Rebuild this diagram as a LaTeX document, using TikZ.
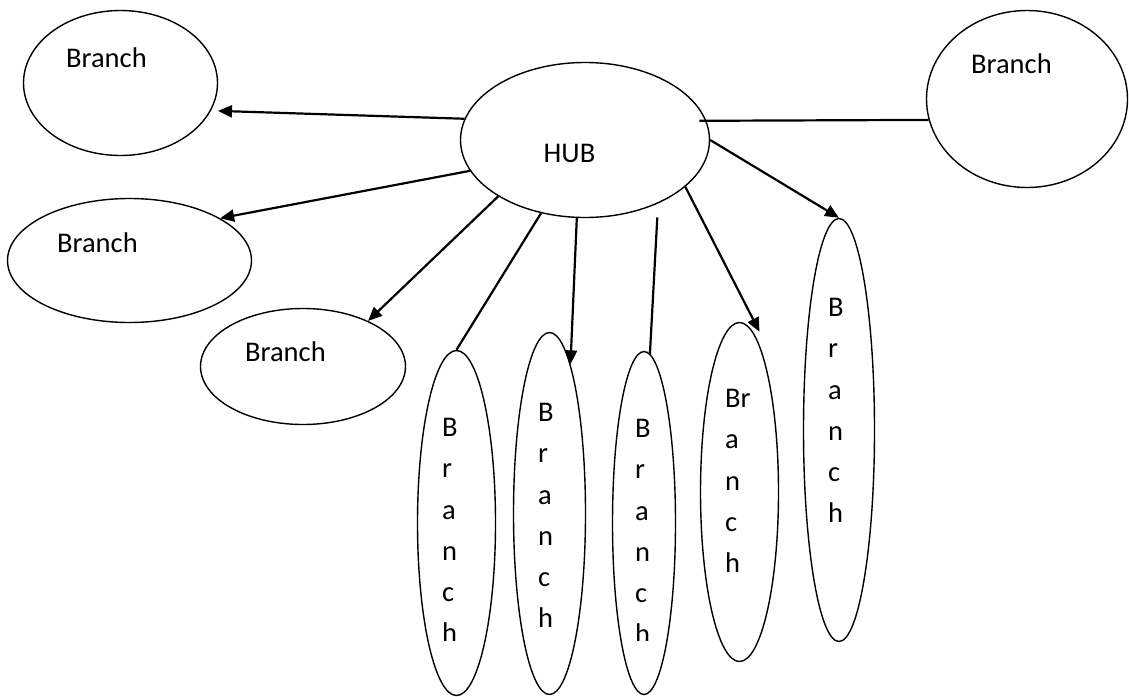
\documentclass[tikz,border=0pt]{standalone}
\usepackage{fontspec}
\setmainfont{Carlito}
\usetikzlibrary{shapes.geometric,arrows.meta}

\begin{document}
\begin{tikzpicture}[x=1pt,y=-1pt,
  branch/.style={draw,ellipse,line width=1.4pt,inner sep=0pt},
  word/.style={inner sep=0pt,font=\fontsize{28.5}{41.3}\selectfont},
  letters/.style={word,anchor=north west,align=left},
  link/.style={line width=2.2pt},
  feed/.style={link,-{Triangle[length=14pt,width=12pt]}}]
  \useasboundingbox (0,0) rectangle (1129,696);

  % hub and the round branches
  \node[branch,minimum width=249pt,minimum height=155pt] (hub) at (585,140) {};
  \node[branch,minimum width=194pt,minimum height=145pt] (tl) at (120.5,83) {};
  \node[branch,minimum width=244pt,minimum height=124pt] (ml) at (129.5,260.5) {};
  \node[branch,minimum width=205pt,minimum height=116pt] (lo) at (303,366.5) {};
  \node[branch,minimum width=201pt,minimum height=177pt] (rt) at (1027,99) {};

  % tall branches
  \node[branch,minimum width=78pt,minimum height=345pt] (v1) at (456.5,523) {};
  \node[branch,minimum width=72pt,minimum height=362pt] (v2) at (549.5,513.5) {};
  \node[branch,minimum width=63pt,minimum height=343pt] (v3) at (644,523) {};
  \node[branch,minimum width=78pt,minimum height=339pt] (v4) at (739.5,492) {};
  \node[branch,minimum width=71pt,minimum height=423pt] (v5) at (839,430) {};

  % labels
  \node[word,anchor=base west] (hub-t) at (543.5,162) {HUB};
  \node[word,anchor=base west] (tl-t) at (66,67) {Branch};
  \node[word,anchor=base west] (ml-t) at (57,252) {Branch};
  \node[word,anchor=base west] (lo-t) at (245,361) {Branch};
  \node[word,anchor=base west] (rt-t) at (971,73) {Branch};

  \begin{scope}
    \clip (400,0) rectangle (700,640);
    \node[letters] (v1-t) at (442,418) {B\\r\\a\\n\\c\\h};
    \node[letters] (v3-t) at (635,419) {B\\r\\a\\n\\c\\h};
  \end{scope}
  \node[letters] (v2-t) at (538,403) {B\\r\\a\\n\\c\\h};
  \node[letters] (v4-t) at (725,389) {Br\\a\\n\\c\\h};
  \node[letters] (v5-t) at (828,298) {B\\r\\a\\n\\c\\h};

  % connectors
  \draw[feed,shorten >=7pt] (hub.170.6) -- (tl.-17.1);
  \draw[feed] (hub.195.5) -- (ml.25.2);
  \draw[feed] (hub.213.4) -- (lo.35.8);
  \draw[link] (hub.239.5) -- (v1.north);
  \draw[feed] (hub.264.9) -- (v2.82.5);
  \draw[link,shorten <=14pt] (hub.319.2) -- (v3.88);
  \draw[feed] (hub.335.2) -- ([xshift=20pt,yshift=-10pt]v4.north);
  \draw[feed] (hub.east) -- (v5.north);
  \draw[link,shorten <=-7pt] (hub.9.4) -- (rt.192.1);
\end{tikzpicture}
\end{document}
